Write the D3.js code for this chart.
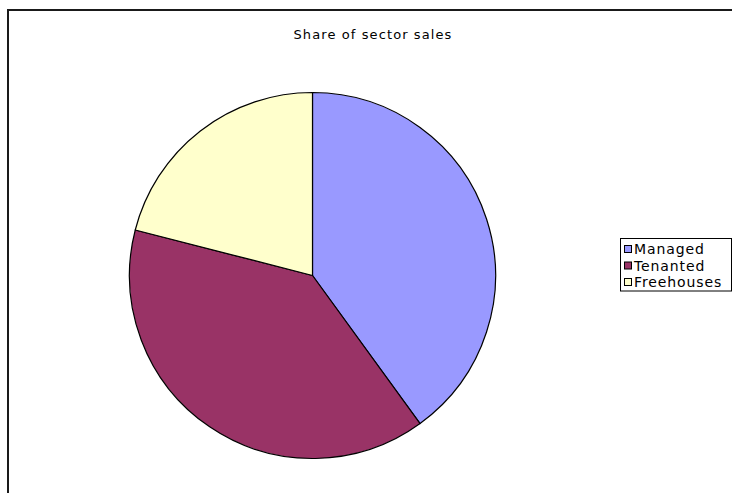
<!DOCTYPE html>
<html>
<head>
<meta charset="utf-8">
<script src="https://cdn.jsdelivr.net/npm/d3@7"></script>
<style>
  html, body { margin: 0; padding: 0; background: #fff; }
  svg { display: block; }
  text { font-family: "DejaVu Sans", Verdana, sans-serif; fill: #000; }
</style>
</head>
<body>
<svg id="chart" width="732" height="493"></svg>
<script>
// Share of sector sales by pub ownership type (%)
const categories = ["Managed", "Tenanted", "Freehouses"];
const shares = [40, 39, 21];
const colors = ["#9999FF", "#993366", "#FFFFCC"];
const title = "Share of sector sales";

const svg = d3.select("#chart");

// Chart area frame (runs past the right and bottom edges)
svg.append("rect")
  .attr("x", 8).attr("y", 10)
  .attr("width", 740).attr("height", 500)
  .attr("fill", "#fff")
  .attr("stroke", "#1a1a1a")
  .attr("stroke-width", 2);

svg.append("text")
  .attr("x", 373).attr("y", 39)
  .attr("text-anchor", "middle")
  .attr("font-size", 13)
  .attr("letter-spacing", 1.1)
  .text(title);

const cx = 312.5, cy = 275.5, r = 183;

const pie = d3.pie().sort(null).value(d => d.value);
const arc = d3.arc().innerRadius(0).outerRadius(r);
const data = categories.map((c, i) => ({ name: c, value: shares[i] }));
const color = d3.scaleOrdinal().domain(categories).range(colors);

svg.append("g")
  .attr("transform", `translate(${cx},${cy})`)
  .selectAll("path")
  .data(pie(data))
  .join("path")
  .attr("d", arc)
  .attr("fill", d => color(d.data.name))
  .attr("stroke", "#000")
  .attr("stroke-width", 1.2)
  .attr("stroke-linejoin", "round");

// Legend
const lg = svg.append("g").attr("transform", "translate(620,238)");
const rowH = 16.5;
lg.append("rect")
  .attr("x", 0.5).attr("y", 0.5)
  .attr("width", 111).attr("height", categories.length * rowH + 3)
  .attr("fill", "#fff").attr("stroke", "#000").attr("stroke-width", 1);

const rows = lg.selectAll("g.row")
  .data(categories)
  .join("g")
  .attr("class", "row")
  .attr("transform", (d, i) => `translate(0,${3 + i * rowH})`);

rows.append("rect")
  .attr("x", 4.5).attr("y", 4.5)
  .attr("width", 7).attr("height", 7)
  .attr("fill", d => color(d))
  .attr("stroke", "#000").attr("stroke-width", 1);

rows.append("text")
  .attr("x", 14).attr("y", 13)
  .attr("font-size", 14)
  .attr("letter-spacing", 0.9)
  .text(d => d);
</script>
</body>
</html>
